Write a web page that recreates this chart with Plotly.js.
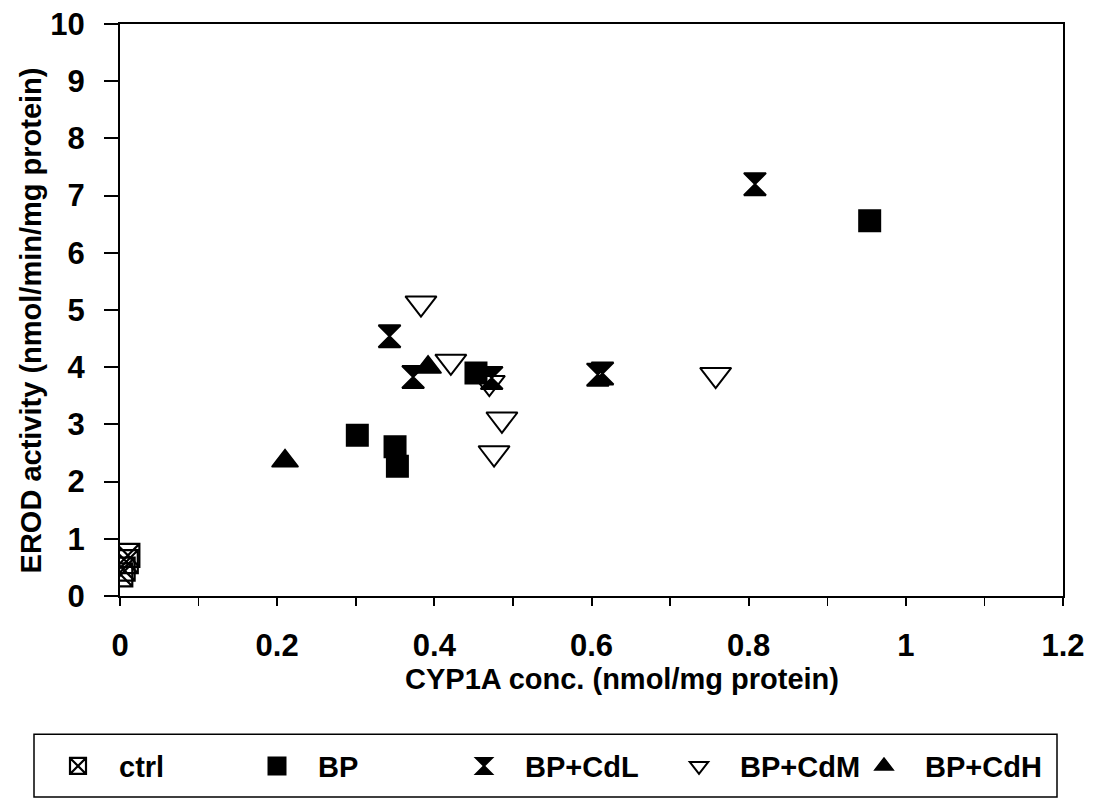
<!DOCTYPE html>
<html>
<head>
<meta charset="utf-8">
<script src="https://cdn.plot.ly/plotly-3.0.1.min.js"></script>
<style>html,body{margin:0;padding:0;background:#fff;}#chart{width:1097px;height:803px;}</style>
</head>
<body>
<div id="chart"></div>
<script>
// Data
const seriesNames = ["ctrl", "BP", "BP+CdL", "BP+CdM", "BP+CdH"];
const ctrlX = [0.010, 0.008, 0.004, 0.001];
const ctrlY = [0.71, 0.60, 0.47, 0.37];
const bpX = [0.302, 0.350, 0.353, 0.453, 0.954];
const bpY = [2.81, 2.61, 2.27, 3.90, 6.56];
const cdlX = [0.343, 0.373, 0.473, 0.608, 0.614, 0.808];
const cdlY = [4.54, 3.83, 3.81, 3.87, 3.89, 7.20];
const cdmX = [0.383, 0.421, 0.470, 0.486, 0.476, 0.758];
const cdmY = [5.12, 4.10, 3.73, 3.09, 2.50, 3.87];
const cdhX = [0.210, 0.392];
const cdhY = [2.36, 4.00];
const xTicks = [0, 0.2, 0.4, 0.6, 0.8, 1, 1.2];
const yTicks = [0, 1, 2, 3, 4, 5, 6, 7, 8, 9, 10];
const xTitle = "CYP1A conc. (nmol/mg protein)";
const yTitle = "EROD activity (nmol/min/mg protein)";

const FONT = "Liberation Sans, Arial, Helvetica, sans-serif";
const black = "#000000";

const traces = [
  {x: ctrlX, y: ctrlY, name: seriesNames[0], legend: "legend",
   marker: {symbol: "square-x-open", size: 23, color: black, line: {width: 2.2, color: black}}},
  {x: bpX, y: bpY, name: seriesNames[1], legend: "legend2",
   marker: {symbol: "square", size: 20, color: black, line: {width: 3, color: black}}},
  {x: cdlX, y: cdlY, name: seriesNames[2], legend: "legend3",
   marker: {symbol: "hourglass", size: 22, color: black, line: {width: 2, color: black}}},
  {x: cdmX, y: cdmY, name: seriesNames[3], legend: "legend4",
   marker: {symbol: "triangle-down-open", size: 27, color: black, line: {width: 2, color: black}}},
  {x: cdhX, y: cdhY, name: seriesNames[4], legend: "legend5",
   marker: {symbol: "triangle-up", size: 23, color: black, line: {width: 1.5, color: black}}}
].map(t => Object.assign({type: "scatter", mode: "markers", showlegend: true}, t));

const plotL = 120, plotR = 1063, plotT = 24, plotB = 599;
const W = 1097, H = 803;
const px2x = p => (p - plotL) / (plotR - plotL);
const py2y = p => (plotB - p) / (plotB - plotT);

function mkLegend(px) {
  return {
    x: px2x(px), xanchor: "left", xref: "paper",
    y: py2y(770), yanchor: "middle", yref: "paper",
    orientation: "h", bgcolor: "rgba(0,0,0,0)", borderwidth: 0,
    font: {family: FONT, size: 29, color: black, weight: "bold"},
    itemsizing: "trace", itemwidth: 72
  };
}

const layout = {
  width: W, height: H,
  margin: {l: plotL, r: W - plotR, t: plotT, b: H - plotB, pad: 0},
  paper_bgcolor: "#ffffff", plot_bgcolor: "#ffffff",
  font: {family: FONT, color: black, weight: "bold"},
  xaxis: {
    range: [0, 1.2], tickvals: xTicks, ticktext: xTicks.map(String),
    showgrid: false, zeroline: false,
    showline: true, linecolor: black, linewidth: 2, mirror: true,
    ticks: "outside", ticklen: 8, tickwidth: 2, tickcolor: black,
    minor: {dtick: 0.1, ticks: "outside", ticklen: 8, tickwidth: 1.5, tickcolor: black, showgrid: false},
    tickfont: {family: FONT, size: 31, color: black, weight: "bold"},
    ticklabelstandoff: 13
  },
  yaxis: {
    range: [0, 10], tickvals: yTicks, ticktext: yTicks.map(String),
    showgrid: false, zeroline: false,
    showline: true, linecolor: black, linewidth: 2, mirror: true,
    ticks: "outside", ticklen: 14, tickwidth: 2, tickcolor: black,
    tickfont: {family: FONT, size: 31, color: black, weight: "bold"},
    ticklabelstandoff: 13
  },
  annotations: [{
    text: xTitle, xref: "paper", yref: "paper",
    x: px2x(622), y: py2y(682), xanchor: "center", yanchor: "middle",
    showarrow: false, font: {family: FONT, size: 29, color: black, weight: "bold"}
  }, {
    text: yTitle, xref: "paper", yref: "paper", textangle: -90,
    x: px2x(31), y: py2y(322), xanchor: "center", yanchor: "middle",
    showarrow: false, font: {family: FONT, size: 29, color: black, weight: "bold"}
  }],
  shapes: [{
    type: "rect", xref: "paper", yref: "paper",
    x0: px2x(34), x1: px2x(1057), y0: py2y(738), y1: py2y(801),
    line: {color: black, width: 1.5}, fillcolor: "rgba(0,0,0,0)", layer: "below"
  }],
  legend: mkLegend(37),
  legend2: mkLegend(236),
  legend3: mkLegend(443),
  legend4: mkLegend(658),
  legend5: mkLegend(843)
};

Plotly.newPlot("chart", traces, layout, {displayModeBar: false, staticPlot: true});
</script>
</body>
</html>
